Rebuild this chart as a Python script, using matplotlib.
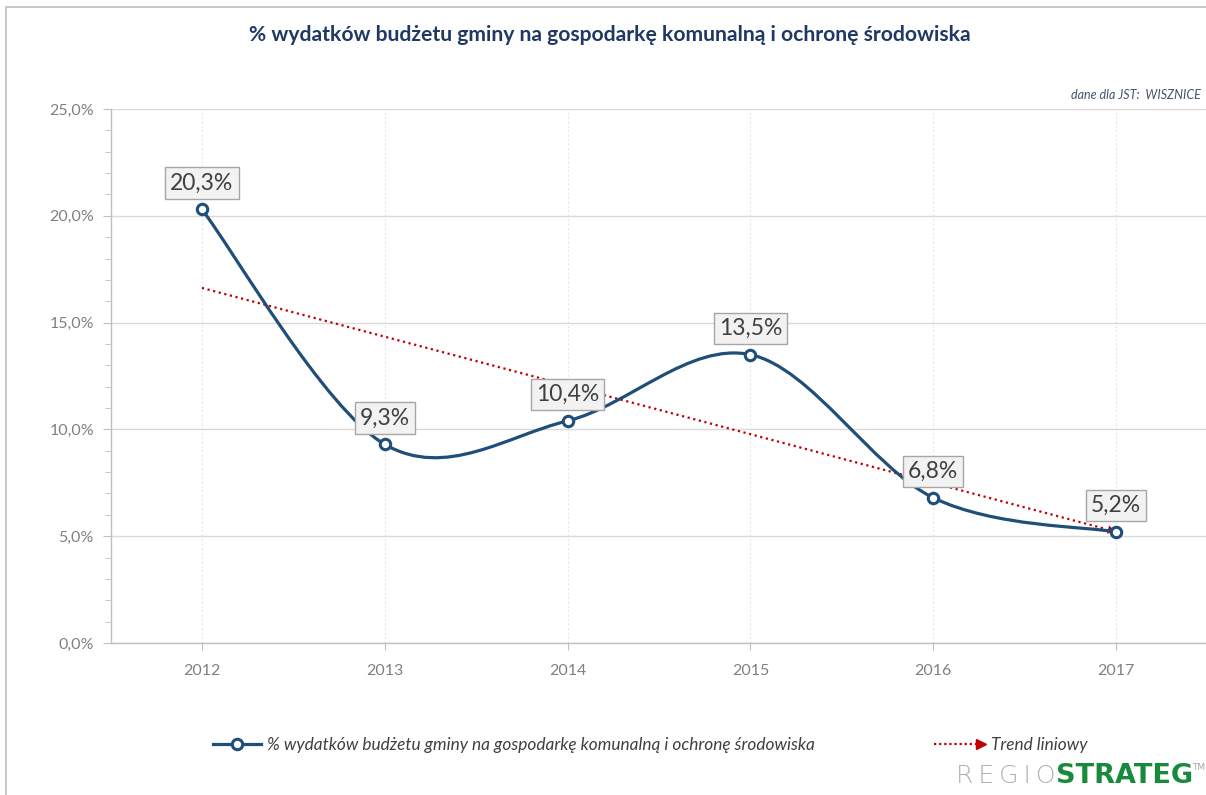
import matplotlib
matplotlib.use("Agg")
import matplotlib.pyplot as plt
import numpy as np
from matplotlib.path import Path
from matplotlib.patches import PathPatch, Rectangle
from matplotlib.lines import Line2D
from matplotlib.legend_handler import HandlerBase
from matplotlib.ticker import FuncFormatter, MultipleLocator

# Data
years = ["2012", "2013", "2014", "2015", "2016", "2017"]
values = [20.3, 9.3, 10.4, 13.5, 6.8, 5.2]
value_labels = ["20,3%", "9,3%", "10,4%", "13,5%", "6,8%", "5,2%"]
series_name = "% wydatków budżetu gminy na gospodarkę komunalną i ochronę środowiska"
trend_name = "Trend liniowy"
title = "% wydatków budżetu gminy na gospodarkę komunalną i ochronę środowiska"
note = "dane dla JST:  WISZNICE"

NAVY = "#1f4e79"
RED = "#c00000"
GRID = "#d9d9d9"
TICK = "#808080"

plt.rcParams["font.family"] = ["Lato", "DejaVu Sans"]

W, H = 1206, 795
fig = plt.figure(figsize=(W / 100, H / 100), dpi=100)

# plot area in pixel terms: x from 110.5 to 1207.5, y from 109 to 643
ax = fig.add_axes([110.5 / W, (H - 643) / H, (1207.5 - 110.5) / W, 534 / H])

x = np.arange(1, len(values) + 1)
y = np.array(values)

ax.set_xlim(0.5, len(values) + 0.5)
ax.set_ylim(0, 25)

# smoothed line (Excel-like Bezier smoothing through the points)
pts = np.column_stack([x, y]).astype(float)
verts = [tuple(pts[0])]
codes = [Path.MOVETO]
n = len(pts)
for i in range(n - 1):
    p_prev = pts[max(i - 1, 0)]
    p0 = pts[i]
    p1 = pts[i + 1]
    p_next = pts[min(i + 2, n - 1)]
    c1 = p0 + (p1 - p_prev) / 6.0
    c2 = p1 - (p_next - p0) / 6.0
    verts += [tuple(c1), tuple(c2), tuple(p1)]
    codes += [Path.CURVE4] * 3
ax.add_patch(PathPatch(Path(verts, codes), fill=False, ec=NAVY, lw=2.3,
                       zorder=3, capstyle="round"))

# linear trend
slope, intercept = np.polyfit(x, y, 1)
ty = slope * x + intercept
ax.plot([x[0], x[-1] - 0.06], [ty[0], slope * (x[-1] - 0.06) + intercept],
        color=RED, lw=1.6, ls=(0, (1, 1.6)), zorder=2.5)
ax.annotate("", xy=(x[-1], ty[-1]), xytext=(x[-1] - 0.08, slope * (x[-1] - 0.08) + intercept),
            arrowprops=dict(arrowstyle="-|>,head_length=0.6,head_width=0.3",
                            color=RED, lw=0, shrinkA=0, shrinkB=0), zorder=2.6)

# markers
ax.plot(x, y, ls="none", marker="o", ms=7.5, mfc="white", mec=NAVY, mew=2.2, zorder=4)

# data labels
for xi, yi, lab in zip(x, y, value_labels):
    ax.annotate(lab, (xi, yi), xytext=(0, 19), textcoords="offset points",
                ha="center", va="center", fontsize=16.5, color="#404040", zorder=5,
                bbox=dict(boxstyle="square,pad=0.22", fc="#f2f2f2", ec="#a6a6a6", lw=1))

# axes styling
ax.set_xticks(x)
ax.set_xticklabels(years)
ax.yaxis.set_major_locator(MultipleLocator(5))
ax.yaxis.set_minor_locator(MultipleLocator(1))
ax.yaxis.set_major_formatter(FuncFormatter(lambda v, p: f"{v:.1f}%".replace(".", ",")))
ax.grid(axis="y", which="major", color=GRID, lw=1)
ax.grid(axis="x", color="#e6e6e6", lw=0.8, ls=(0, (2, 2)))
ax.set_axisbelow(True)
for s in ["top", "right"]:
    ax.spines[s].set_visible(False)
for s in ["left", "bottom"]:
    ax.spines[s].set_color("#bfbfbf")
    ax.spines[s].set_linewidth(1)
ax.tick_params(axis="both", which="both", colors="#bfbfbf", labelcolor=TICK, labelsize=11.5)
ax.tick_params(axis="y", which="major", length=6, pad=6)
ax.tick_params(axis="y", which="minor", length=4)
ax.tick_params(axis="x", which="major", length=5, pad=10)

# title and note
fig.text(610 / W, 1 - 35 / H, title, ha="center", va="center", fontsize=15.2,
         fontweight="bold", color="#1f3864")
fig.text(1201 / W, 1 - 95 / H, note, ha="right", va="center", fontsize=9,
         style="italic", color="#44546a")


# legend
class ArrowHandler(HandlerBase):
    def create_artists(self, legend, orig_handle, xdescent, ydescent, width, height,
                       fontsize, trans):
        x0 = -xdescent
        yc = -ydescent + height / 2
        ln = Line2D([x0, x0 + width * 0.86], [yc, yc], color=RED, lw=1.6,
                    ls=(0, (1, 1.3)), transform=trans)
        hd = Line2D([x0 + width * 0.9], [yc], marker=">", ms=7, color=RED, lw=0,
                    transform=trans)
        return [ln, hd]


h1 = Line2D([], [], color=NAVY, lw=2.3, marker="o", ms=7.5, mfc="white", mec=NAVY, mew=2.2)
h2 = Line2D([], [], color=RED)
leg1 = fig.legend([h1], [series_name], loc="center left",
                  bbox_to_anchor=(213 / W, 1 - 745 / H), frameon=False,
                  prop=dict(style="italic", size=12.4), labelcolor="#404040",
                  handlelength=2.8, handletextpad=0.35, borderpad=0, borderaxespad=0)
leg2 = fig.legend([h2], [trend_name], loc="center left",
                  bbox_to_anchor=(934 / W, 1 - 745 / H), frameon=False,
                  prop=dict(style="italic", size=12.4), labelcolor="#404040",
                  handlelength=3.0, handletextpad=0.3, borderpad=0, borderaxespad=0,
                  handler_map={h2: ArrowHandler()})

# logo
fig.text(1055 / W, 1 - 776 / H, "R\u2009E\u2009G\u2009I\u2009O", ha="right", va="center",
         fontsize=18, family="DejaVu Sans", fontweight="light", color="#b0b0b0")
fig.text(1056 / W, 1 - 776 / H, "STRATEG", ha="left", va="center", fontsize=19.5,
         family="DejaVu Sans", fontweight="bold", color="#178a3c")
fig.text(1192 / W, 1 - 768 / H, "TM", ha="left", va="center", fontsize=6.5,
         family="DejaVu Sans", color="#a6a6a6")

# outer frame
fig.add_artist(Rectangle((6 / W, -0.01), 1.1, 1 - 7 / H + 0.01, transform=fig.transFigure,
                         fill=False, ec="#bfbfbf", lw=1.2))

fig.savefig("out.png", dpi=100)
